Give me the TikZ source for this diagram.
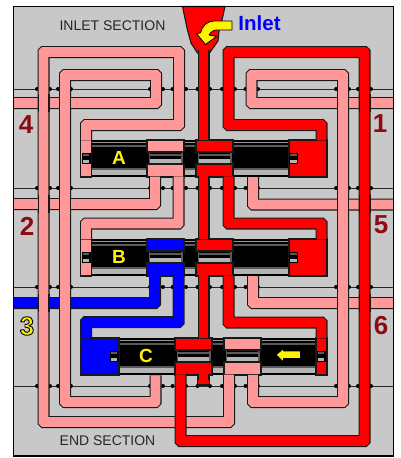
\documentclass[tikz,border=0pt]{standalone}
\usepackage{fontspec}
\setmainfont{Liberation Sans}
\usetikzlibrary{calc}
\definecolor{pinkp}{HTML}{FF9999}
\definecolor{redp}{HTML}{FF0000}
\definecolor{bluep}{HTML}{0000FF}
\definecolor{bgp}{HTML}{C8C8C8}
\definecolor{darkred}{HTML}{8C0A14}
\definecolor{lightst}{HTML}{B4B4B4}
\definecolor{midst}{HTML}{5A5A5A}
\definecolor{upst}{HTML}{969696}
\tikzset{
  edgeline/.style={line width=12pt,draw=black!90,line join=miter,line cap=butt},
  coreline/.style={line width=9.8pt,line join=miter,line cap=butt},
  blockp/.style={draw=black!90,line width=1.1pt},
  hline/.style={draw=black!85,line width=1pt},
  dotp/.style={fill=black},
  digit/.style={font=\fontsize{26}{26}\selectfont\bfseries,text=darkred,inner sep=0pt},
  letterp/.style={font=\fontsize{19}{19}\selectfont\bfseries,text=yellow,inner sep=0pt},
  sect/.style={font=\fontsize{14}{14}\selectfont,text=black!85,inner sep=0pt},
  arrowp/.style={fill=yellow,draw=black,line width=0.8pt,line join=round}
}
% chamfered path: start x, start y, then x/y list
\newcommand\pipe[4]{%
  \draw[edgeline] \chpathb{#2}{#3}{#4};
  \draw[coreline,draw=#1] \chpathb{#2}{#3}{#4};
}
\newcommand\chpathb[3]{(#1,#2) \foreach \xx/\yy [remember=\xx as \qx (initially #1), remember=\yy as \qy (initially #2)] in {#3} { -- ($(\qx,\qy)!0.3pt!(\xx,\yy)$) -- ($(\xx,\yy)!0.3pt!(\qx,\qy)$) }}
% valve: dx, dy, left chamber colour, right chamber colour
\newcommand\valve[4]{%
\begin{scope}[shift={(#1,#2)}]
  \fill[black] (91,140) rectangle (289.5,177);
  \fill[upst] (91.5,141.7) rectangle (289,143.2);
  \fill[midst] (91.5,144.8) rectangle (289,147);
  \fill[midst] (91.5,167.5) rectangle (289,169.5);
  \fill[lightst] (91.5,169.5) rectangle (289,175.4);
  \foreach \a/\b/\c in {147/184/#3,196/233/#4}{
    \fill[black] (\a,151) rectangle (\b,165);
    \fill[midst] (\a+2,154) rectangle (\b-2,155.5);
    \fill[lightst] (\a+2,158.5) rectangle (\b-2,163);
    \fill[midst] (\a+1.5,153) rectangle (\a+3.2,164);
    \fill[midst] (\b-3.2,153) rectangle (\b-1.5,164);
    \draw[blockp,fill=\c] (\a,140) rectangle (\b,152);
    \draw[blockp,fill=\c] (\a,164) rectangle (\b,177);
  }
\end{scope}}
\newcommand\capp[2]{%
  \fill[black] (#1-0.5,#2-0.5) rectangle (#1+8.5,#2+11);
  \fill[lightst] (#1+0.7,#2+6.5) rectangle (#1+7.3,#2+9.8);
  \fill[midst] (#1+0.7,#2+1) rectangle (#1+7.3,#2+2.5);
}
\begin{document}
\begin{tikzpicture}[x=1pt,y=-1pt]
\useasboundingbox (0,0) rectangle (400,458);
\fill[bgp] (13.5,6.5) rectangle (393.5,456);
% measuring lines
\foreach \ry in {89,188,287,386}{
  \draw[hline] (13.5,\ry) -- (393.5,\ry);
  \foreach \dx in {37,50,58,71,150,163,172.6,186,197.5,210,222,235,245.5,258,336,349,358,371}
    \fill[dotp] (\dx,\ry) circle (2);
}
% valves
\valve{0}{0}{pinkp}{redp}
\valve{0}{99}{bluep}{redp}
\valve{28}{198}{redp}{pinkp}
% end blocks
\draw[blockp,fill=pinkp] (80.5,140) rectangle (91.5,177);
\draw[blockp,fill=pinkp] (80.5,239) rectangle (91.5,276);
\draw[blockp,fill=bluep] (80.5,338) rectangle (119,375);
\draw[blockp,fill=redp] (289,140) rectangle (327,177);
\draw[blockp,fill=redp] (289,239) rectangle (327,276);
\draw[blockp,fill=redp] (316,338) rectangle (327,375);
\draw[blockp,fill=redp] (197.5,375) rectangle (209.5,385);
% inlet funnel
\draw[blockp,fill=redp] (182.5,6.5) -- (225,6.5) -- (222,20) -- (219,31) -- (218,41) -- (209.5,53) -- (197.5,53) -- (191,43) -- (187,28) -- cycle;
% pipes
\pipe{pinkp}{13.5}{103}{156/103,156/75,65/75,65/402,155.5/402,155.5/375}
\pipe{pinkp}{393.5}{103}{251.5/103,251.5/75,343/75,343/402,253/402,253/374.5}
\pipe{pinkp}{86}{140.7}{86/125,179/125,179/52,43.5/52,43.5/422,229/422,229/374.3}
\pipe{pinkp}{13.5}{204}{155/204,155/176.3}
\pipe{pinkp}{178.5}{176.3}{178.5/223.5,86/223.5,86/239.7}
\pipe{pinkp}{253}{177}{253/204.5,393.5/204.5}
\pipe{pinkp}{253}{276}{253/303,393.5/303}
\pipe{bluep}{13.5}{303}{155/303,155/275.3}
\pipe{bluep}{178.5}{275.3}{178.5/322,86/322,86/338.7}
\pipe{redp}{203.5}{50}{203.5/140.7}
\pipe{redp}{203.5}{176.3}{203.5/239.7}
\pipe{redp}{203.5}{275.3}{203.5/338.7}
\pipe{redp}{203.5}{374.3}{203.5/380}
\pipe{redp}{180.5}{374.3}{180.5/441,364.5/441,364.5/52,228.5/52,228.5/125,321.5/125,321.5/140.7}
\pipe{redp}{228.5}{176.3}{228.5/223.5,321.5/223.5,321.5/239.7}
\pipe{redp}{228.5}{275.3}{228.5/322.5,321.5/322.5,321.5/338.7}
% crossings: verticals pass over the bands
\foreach \cy in {103,204,303}{
  \draw[edgeline] (43.5,\cy-9) -- (43.5,\cy+9);
  \draw[coreline,draw=pinkp] (43.5,\cy-9) -- (43.5,\cy+9);
  \draw[edgeline] (65,\cy-9) -- (65,\cy+9);
  \draw[coreline,draw=pinkp] (65,\cy-9) -- (65,\cy+9);
  \draw[edgeline] (343,\cy-9) -- (343,\cy+9);
  \draw[coreline,draw=pinkp] (343,\cy-9) -- (343,\cy+9);
  \draw[edgeline] (364.5,\cy-9) -- (364.5,\cy+9);
  \draw[coreline,draw=redp] (364.5,\cy-9) -- (364.5,\cy+9);
}
% end caps
\capp{82}{153}
\capp{82}{252}
\capp{110}{351}
\capp{289.5}{153}
\capp{289.5}{252}
\capp{317}{351}
% frame
\draw[black,line width=1.3pt] (13.5,6.5) rectangle (393.5,456);
% yellow arrows
\draw[arrowp] (232,21) -- (232,30) -- (217,30) .. controls (213,30) and (211,32) .. (209,35) -- (216.5,36.5) -- (205.5,44.5) -- (196.5,33.5) -- (200.5,33) .. controls (202,26) and (207,21) .. (214,21) -- cycle;
\draw[arrowp] (300.5,351) -- (283.5,351) -- (283.5,348.5) -- (276,354.8) -- (283.5,362) -- (283.5,358.5) -- (300.5,358.5) -- cycle;
% labels
\node[letterp] (la) at (119,158) {A};
\node[letterp] (lb) at (119,257) {B};
\node[letterp] (lc) at (146,356) {C};
\node[digit] (n4) at (26,125) {4};
\node[digit] (n2) at (27,226) {2};
\node[digit] (n1) at (380,124) {1};
\node[digit] (n5) at (381,225) {5};
\node[digit] (n6) at (381,326) {6};
\node[digit,text=yellow] (n3) at (27,326) {\special{pdf:code 2 Tr 0.9 w 0 0 0 RG}3\special{pdf:code 0 Tr}};
\node[sect] (inletsec) at (112.5,26) {INLET SECTION};
\node[sect] (endsec) at (107.5,441) {END SECTION};
\node[inner sep=0pt,text=bluep,font=\fontsize{20.5}{20.5}\selectfont\bfseries] (inlet) at (259.5,23) {Inlet};
\end{tikzpicture}
\end{document}
